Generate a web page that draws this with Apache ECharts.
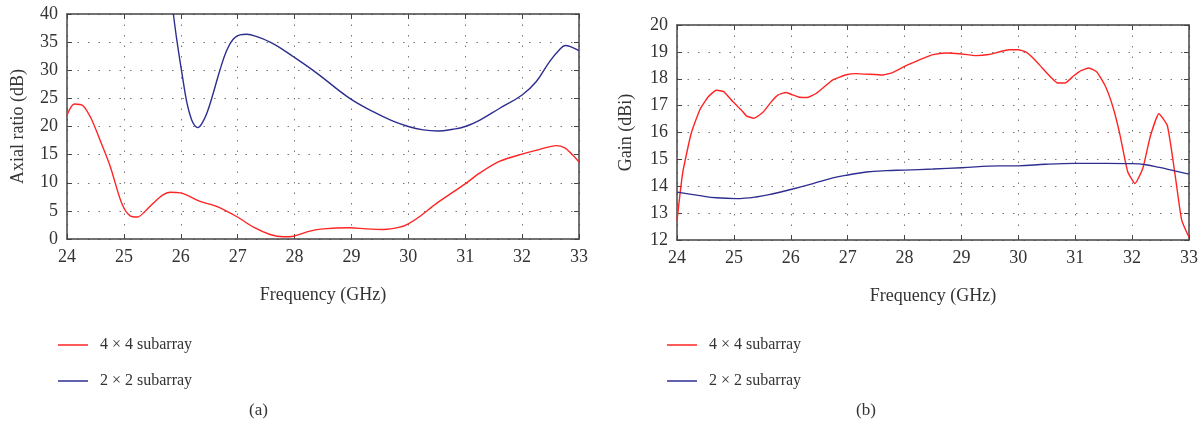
<!DOCTYPE html>
<html><head><meta charset="utf-8">
<script src="https://cdn.jsdelivr.net/npm/echarts@6/dist/echarts.min.js"></script>
<style>html,body{margin:0;padding:0;background:#fff}#c{width:1202px;height:427px}</style>
</head><body><div id="c"></div>
<script>
const seriesNames = ['4 × 4 subarray', '2 × 2 subarray'];
const xTicks = [24,25,26,27,28,29,30,31,32,33];

// (a) Axial ratio (dB)
const arFreq4 = [24.0,24.13,24.28,24.42,24.58,24.76,24.96,25.11,25.24,25.37,25.52,25.68,25.81,25.99,26.34,26.63,26.98,27.28,27.57,27.8,27.98,28.27,28.5,28.97,29.26,29.56,29.85,30.0,30.2,30.49,31.0,31.25,31.6,32.0,32.3,32.6,32.75,32.87,33.0];
const arVal4  = [22.0,24.0,23.7,21.5,17.6,12.9,6.4,4.1,3.9,4.9,6.4,7.8,8.3,8.2,6.7,5.8,4.0,2.1,0.8,0.4,0.5,1.4,1.8,2.0,1.8,1.7,2.1,2.7,4.0,6.3,9.8,11.7,13.8,15.1,15.9,16.6,16.2,15.1,13.7];
const arFreq2 = [25.87,25.93,26.02,26.11,26.19,26.25,26.3,26.37,26.46,26.57,26.69,26.81,26.92,27.04,27.16,27.33,27.63,27.98,28.39,28.97,29.39,29.7,30.0,30.26,30.52,30.78,31.0,31.25,31.6,32.0,32.25,32.48,32.66,32.76,32.87,33.0];
const arVal2  = [40.0,35.4,29.5,24.1,21.2,20.1,19.8,20.5,22.4,25.9,30.1,33.6,35.5,36.3,36.4,36.0,34.7,32.4,29.5,25.0,22.6,21.1,20.0,19.4,19.2,19.5,20.0,21.1,23.2,25.6,28.0,31.5,33.7,34.4,34.1,33.5];

// (b) Gain (dBi)
const gFreq4 = [24.0,24.1,24.25,24.4,24.55,24.69,24.82,24.98,25.13,25.22,25.35,25.51,25.66,25.78,25.92,26.03,26.15,26.29,26.45,26.74,26.98,27.15,27.62,27.8,28.0,28.27,28.5,28.74,28.97,29.26,29.48,29.84,30.0,30.13,30.28,30.42,30.57,30.69,30.82,30.97,31.1,31.24,31.38,31.53,31.66,31.78,31.92,32.05,32.19,32.32,32.47,32.62,32.76,32.87,33.0];
const gVal4  = [12.72,14.5,15.97,16.84,17.33,17.57,17.52,17.15,16.84,16.62,16.53,16.75,17.15,17.4,17.49,17.4,17.31,17.3,17.46,17.96,18.15,18.19,18.14,18.24,18.46,18.71,18.9,18.96,18.93,18.86,18.9,19.08,19.08,19.0,18.73,18.4,18.06,17.84,17.84,18.1,18.3,18.4,18.25,17.72,16.97,15.98,14.56,14.1,14.68,15.86,16.7,16.25,14.36,12.75,12.1];
const gFreq2 = [24.0,24.4,24.69,25.04,25.39,25.69,26.0,26.39,26.74,27.0,27.33,27.68,28.0,28.5,29.0,29.67,30.0,30.48,31.0,31.54,32.0,32.24,32.48,32.71,33.0];
const gVal2  = [13.78,13.65,13.57,13.54,13.6,13.72,13.88,14.1,14.31,14.42,14.53,14.58,14.6,14.64,14.69,14.76,14.76,14.82,14.85,14.85,14.84,14.8,14.7,14.59,14.45];

const zip = (a, b) => a.map((x, i) => [x, b[i]]);
const RED = '#ff2424', BLUE = '#2e2e90';
const FONT = 'Liberation Serif';
const txt = {fontFamily: FONT, fontSize: 18, color: '#333'};

function xAx(grid, top) {
  return {
    type: 'value', gridIndex: grid, min: 24, max: 33, interval: 1, position: top ? 'top' : 'bottom',
    name: top ? '' : 'Frequency (GHz)', nameLocation: 'middle', nameGap: 47,
    nameTextStyle: txt,
    axisLine: {show: true, onZero: false, lineStyle: {color: '#444', width: 1.5}},
    axisTick: {show: true, inside: true, length: 5, lineStyle: {color: '#444'}},
    axisLabel: {show: !top, ...txt, margin: 9},
    splitLine: {show: !top, lineStyle: {type: [1.5, 9], color: '#777', width: 1}}
  };
}
function yAx(grid, right, min, max, interval, name, gap) {
  return {
    type: 'value', gridIndex: grid, min, max, interval, position: right ? 'right' : 'left',
    name: right ? '' : name, nameLocation: 'middle', nameGap: gap,
    nameTextStyle: txt,
    axisLine: {show: true, onZero: false, lineStyle: {color: '#444', width: 1.5}},
    axisTick: {show: true, inside: true, length: 5, lineStyle: {color: '#444'}},
    axisLabel: {show: !right, ...txt, margin: 9},
    splitLine: {show: !right, lineStyle: {type: [1.5, 9], color: '#777', width: 1}}
  };
}
function ser(name, data, x, y, color, smooth) {
  return {name, type: 'line', data, xAxisIndex: x, yAxisIndex: y, symbol: 'none', smooth,
    lineStyle: {color, width: 1.4}, itemStyle: {color}, clip: true, animation: false};
}
const legendBase = {orient: 'vertical', itemWidth: 30, itemHeight: 16, itemGap: 20, padding: 0,
  icon: 'path://M0,4 L30,4 L30,5.5 L0,5.5 Z',
  textStyle: {fontFamily: FONT, fontSize: 16, color: '#333', padding: [0, 0, 0, 7]}, selectedMode: false};

const chart = echarts.init(document.getElementById('c'), null, {renderer: 'canvas'});
chart.setOption({
  backgroundColor: '#fff',
  animation: false,
  grid: [
    {left: 67, top: 14, width: 512, height: 225},
    {left: 677, top: 25, width: 512, height: 215}
  ],
  xAxis: [xAx(0, false), xAx(0, true), xAx(1, false), xAx(1, true)],
  yAxis: [yAx(0, false, 0, 40, 5, 'Axial ratio (dB)', 40), yAx(0, true, 0, 40, 5),
          yAx(1, false, 12, 20, 1, 'Gain (dBi)', 42), yAx(1, true, 12, 20, 1)],
  legend: [
    {...legendBase, left: 58, top: 337, data: seriesNames},
    {...legendBase, left: 667, top: 337, data: seriesNames}
  ],
  series: [
    ser(seriesNames[0], zip(arFreq4, arVal4), 0, 0, RED, 0.3),
    ser(seriesNames[1], zip(arFreq2, arVal2), 0, 0, BLUE, 0.4),
    ser(seriesNames[0], zip(gFreq4, gVal4), 2, 2, RED, 0.15),
    ser(seriesNames[1], zip(gFreq2, gVal2), 2, 2, BLUE, 0.4)
  ],
  graphic: [
    {type: 'text', left: 249, top: 402, style: {text: '(a)', font: '17px ' + FONT, fill: '#333'}},
    {type: 'text', left: 856, top: 402, style: {text: '(b)', font: '17px ' + FONT, fill: '#333'}}
  ]
});
</script></body></html>
